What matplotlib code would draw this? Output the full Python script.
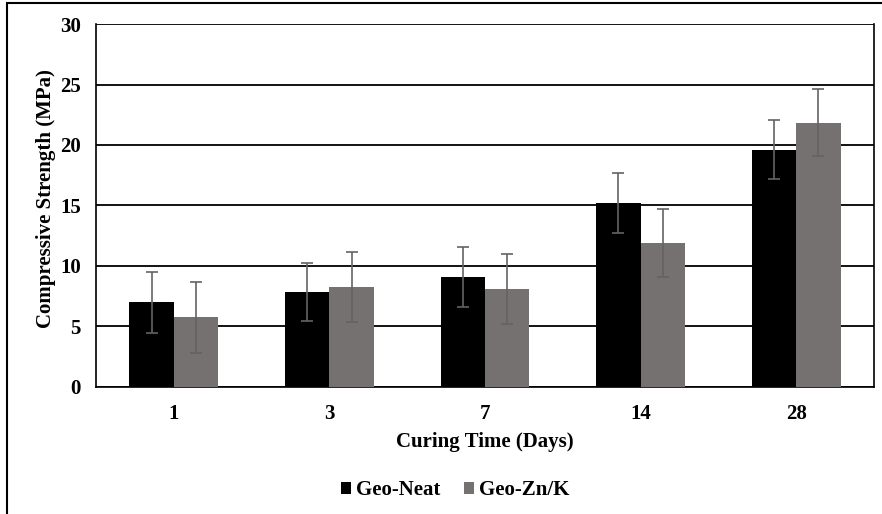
import numpy as np
import matplotlib.pyplot as plt
from matplotlib.patches import Rectangle

# данные с графика
days = ['1', '3', '7', '14', '28']
neat = [7.0, 7.85, 9.1, 15.2, 19.6]
neat_err = [2.5, 2.4, 2.5, 2.5, 2.45]
znk = [5.75, 8.25, 8.1, 11.9, 21.85]
znk_err = [2.9, 2.9, 2.9, 2.85, 2.8]

plt.rcParams['font.family'] = ['Liberation Serif', 'DejaVu Serif']
plt.rcParams['font.weight'] = 'bold'
fs = 15

fig = plt.figure(figsize=(8.82, 5.14), dpi=100)
ax = fig.add_axes([0.1088, 0.2471, 0.8822, 0.7062])

x = np.arange(len(days))
w = 0.285
err_kw = dict(ecolor='#636363', elinewidth=1.2, capsize=4, capthick=1.2)
ax.bar(x - w / 2, neat, w, yerr=neat_err, color='black', label='Geo-Neat',
       error_kw=err_kw, zorder=3)
ax.bar(x + w / 2, znk, w, yerr=znk_err, color='#767171', label='Geo-Zn/K',
       error_kw=err_kw, zorder=3)

ax.set_xlim(-0.5, len(days) - 0.5)
ax.set_ylim(0, 30)
ax.set_yticks(range(0, 31, 5))
ax.set_xticks(x)
ax.set_xticklabels(days)
ax.tick_params(length=0, labelsize=fs)
ax.tick_params(axis='x', pad=12)
ax.tick_params(axis='y', pad=11)
ax.grid(True, axis='y', color='black', linewidth=1.3, zorder=0)
ax.set_axisbelow(True)
for s in ['left', 'right', 'bottom']:
    ax.spines[s].set_linewidth(1.2)
ax.spines['top'].set_visible(False)

ax.set_xlabel('Curing Time (Days)', fontsize=fs, fontweight='bold')
ax.xaxis.set_label_coords(0.5, -0.125)
ax.set_ylabel('Compressive Strength (MPa)', fontsize=fs, fontweight='bold')
ax.yaxis.set_label_coords(-0.051, 0.52)

fig.legend(loc='center', bbox_to_anchor=(0.516, 0.046), ncol=2, frameon=False,
           fontsize=fs, handlelength=0.5, handleheight=0.5, handletextpad=0.25,
           columnspacing=1.1)

# рамка всей диаграммы
fig.patches.append(Rectangle((7 / 882, -0.1), 1.2, 1 - 3 / 514 + 0.1,
                             transform=fig.transFigure, fill=False,
                             edgecolor='black', linewidth=1.5))

fig.savefig('out.png', dpi=100)
